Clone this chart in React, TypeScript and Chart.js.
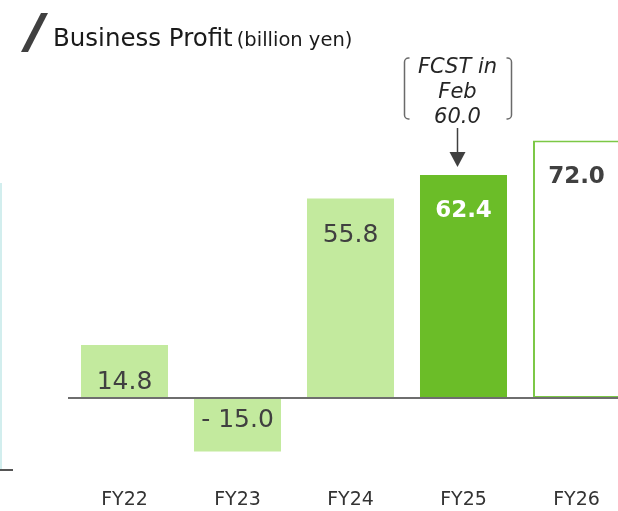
import React, { useEffect, useRef } from 'react';
import { Chart, registerables } from 'chart.js';

Chart.register(...registerables);

const categories = ['FY22', 'FY23', 'FY24', 'FY25', 'FY26'];
const profit = [14.8, -15.0, 55.8, 62.4, 72.0];
const fillColors = ['#c3ea9e', '#c3ea9e', '#c3ea9e', '#6bbd28', '#ffffff'];
const borderColors = ['#c3ea9e', '#c3ea9e', '#c3ea9e', '#6bbd28', '#7cc846'];
const borderWidths = [0, 0, 0, 0, 2];
const labelColors = ['#404040', '#404040', '#404040', '#ffffff', '#404040'];
const labelBold = [false, false, false, true, true];
const fcstLines = ['FCST in', 'Feb', '60.0'];
const fcstIndex = 3;
const titleMain = 'Business Profit';
const titleUnit = '(billion yen)';

const FONT = '"DejaVu Sans", Verdana, sans-serif';

const fmt = (v: number) => (v < 0 ? '- ' + Math.abs(v).toFixed(1) : v.toFixed(1));

const decor = {
  id: 'decor',
  afterDatasetsDraw(chart: any) {
    const ctx = chart.ctx as CanvasRenderingContext2D;
    const ys = chart.scales.y;
    const zero = ys.getPixelForValue(0);
    ctx.save();

    // zero line
    ctx.strokeStyle = '#6e6e6e';
    ctx.lineWidth = 2;
    ctx.beginPath();
    ctx.moveTo(chart.chartArea.left, zero);
    ctx.lineTo(chart.width, zero);
    ctx.stroke();

    // value labels
    const meta = chart.getDatasetMeta(0);
    meta.data.forEach((bar: any, i: number) => {
      const v = profit[i];
      ctx.font = (labelBold[i] ? 'bold 23px ' : '25px ') + FONT;
      ctx.fillStyle = labelColors[i];
      ctx.textAlign = 'center';
      ctx.textBaseline = 'alphabetic';
      const by = v >= 0 ? bar.y + (labelBold[i] ? 42 : 44) : zero + 29;
      ctx.fillText(fmt(v), bar.x, by);
    });

    // forecast annotation
    const fb = meta.data[fcstIndex];
    const cx = fb.x - 6;
    ctx.fillStyle = '#262626';
    ctx.font = 'italic 21px ' + FONT;
    ctx.textAlign = 'center';
    fcstLines.forEach((t, k) => ctx.fillText(t, cx, 73 + k * 25));
    // brackets
    ctx.strokeStyle = '#6a6a6a';
    ctx.lineWidth = 1.5;
    const lx = cx - 53;
    const rx = cx + 54;
    const t0 = 58;
    const t1 = 119;
    const r = 4;
    ctx.beginPath();
    ctx.moveTo(lx + 5, t0);
    ctx.arcTo(lx, t0, lx, t0 + r, r);
    ctx.lineTo(lx, t1 - r);
    ctx.arcTo(lx, t1, lx + 5, t1, r);
    ctx.lineTo(lx + 5, t1);
    ctx.moveTo(rx - 5, t0);
    ctx.arcTo(rx, t0, rx, t0 + r, r);
    ctx.lineTo(rx, t1 - r);
    ctx.arcTo(rx, t1, rx - 5, t1, r);
    ctx.lineTo(rx - 5, t1);
    ctx.stroke();
    // arrow
    ctx.strokeStyle = '#404040';
    ctx.fillStyle = '#404040';
    ctx.lineWidth = 1.5;
    ctx.beginPath();
    ctx.moveTo(cx, 128);
    ctx.lineTo(cx, 154);
    ctx.stroke();
    ctx.beginPath();
    ctx.moveTo(cx - 8, 152);
    ctx.lineTo(cx + 8, 152);
    ctx.lineTo(cx, 167);
    ctx.closePath();
    ctx.fill();

    // title
    ctx.fillStyle = '#404040';
    ctx.beginPath();
    ctx.moveTo(41, 13);
    ctx.lineTo(48, 13);
    ctx.lineTo(28, 52);
    ctx.lineTo(21, 52);
    ctx.closePath();
    ctx.fill();
    ctx.fillStyle = '#1a1a1a';
    ctx.textAlign = 'left';
    ctx.font = '24.5px ' + FONT;
    ctx.fillText(titleMain, 53, 46);
    const w = ctx.measureText(titleMain).width;
    ctx.font = '19.5px ' + FONT;
    ctx.fillText(titleUnit, 53 + w + 4, 46);

    // left edge remnants of neighbouring panel
    ctx.fillStyle = '#d2eeee';
    ctx.fillRect(0, 183, 2, 287);
    ctx.fillStyle = '#555555';
    ctx.fillRect(0, 469, 13, 2);

    ctx.restore();
  },
};

export default function App() {
  const ref = useRef<HTMLCanvasElement | null>(null);
  useEffect(() => {
    const canvas = ref.current;
    if (!canvas) return;
    const chart = new Chart(canvas, {
      type: 'bar',
      data: {
        labels: categories,
        datasets: [
          {
            data: profit,
            backgroundColor: fillColors,
            borderColor: borderColors,
            borderWidth: borderWidths,
            borderSkipped: false,
            barPercentage: 0.77,
            categoryPercentage: 1,
          },
        ],
      },
      options: {
        animation: false,
        responsive: false,
        devicePixelRatio: 1,
        layout: { padding: { left: 68, right: 7, top: 112, bottom: 0 } },
        plugins: {
          legend: { display: false },
          tooltip: { enabled: false },
          title: { display: false },
        },
        scales: {
          x: {
            grid: { display: false, drawTicks: false },
            border: { display: false },
            ticks: {
              color: '#333333',
              font: { family: FONT, size: 19, lineHeight: 22 / 19 },
              padding: 0,
            },
          },
          y: { display: false, min: -25.5, max: 80 },
        },
      },
      plugins: [decor],
    } as any);
    return () => chart.destroy();
  }, []);
  return (
    <div
      style={{
        position: 'fixed',
        left: 0,
        top: 0,
        width: 618,
        height: 511,
        overflow: 'hidden',
        background: '#ffffff',
      }}
    >
      <canvas ref={ref} width={640} height={511} style={{ display: 'block' }} />
    </div>
  );
}
